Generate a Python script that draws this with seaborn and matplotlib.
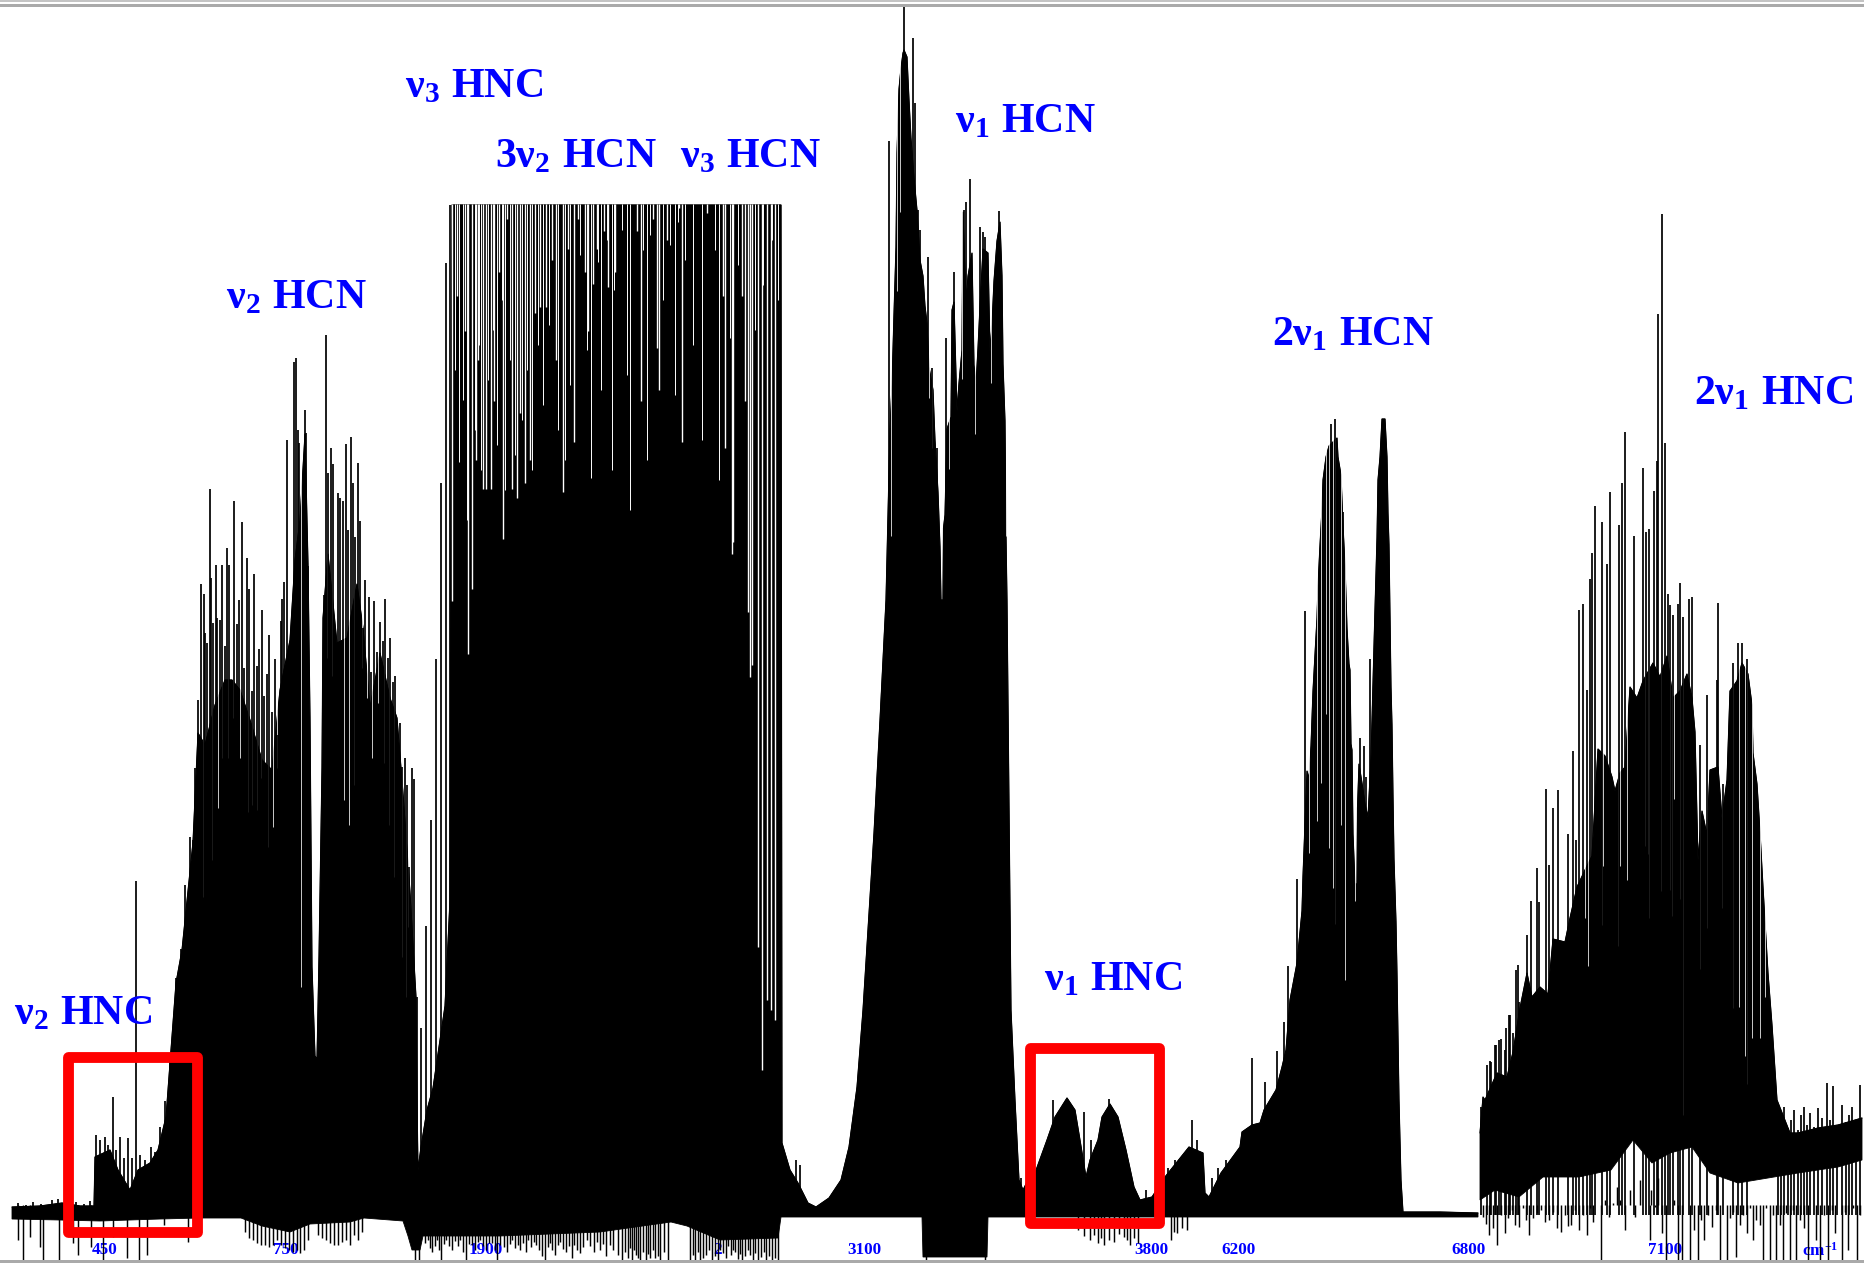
import matplotlib
matplotlib.use("Agg")
import matplotlib.pyplot as plt
from matplotlib.patches import Rectangle
import numpy as np
import seaborn as sns

# Composite spectrum: position along the pasted panels, and signal height (screen-down units)
main_top_x = [12,40,62,80,94,95,110,118,130,138,150,158,166,170,176,182,
              193,198,205,215,225,232,240,250,262,272,280,290,295,300,305,308,310,312,315,317,319,322,323,328,337,347,357,363,370,380,390,397,403,410,416,417,
              418,421,427,433,445,450,452,781,782,790,798,808,816,829,841,849,857,863,874,880,
              886,890,892,894,896,897,899,901,903,904,907,909,911,914,917,920,923,925,927,929,933,935,938,940,941,
              943,943.5,945,947,951,952,954,957,959,962,963,966,968,972,974,976,978,980,983,988,990,992,994,997,1000,1002,1003,1005,1006,1007,1011,1015,1019,1023,1028,
              1035,1047,1055,1067,1075,1080,1086,1090,1098,1102,1110,1118,1126,1134,1140,1152,1165,1177,1189,1203,1205,1209,1221,1240,1242,1252,1260,1264,1270,1276,1282,1286,1290,
              1297,1302,1303,1307,1309,1311,1312,1313,1315,1317,1318,1320,1322,1323,1326,1329,1333,1337,1338,1341,1343,1345,1347,1349,1350,1351,1352,1353,1355,1357,1357.5,1359,1362,1365,1368,1371,1372,1373,1374,1375,1376,1377,1378,1380,1382,1385,1387,1388,1389,1390,1391,1392,1393,1394,1396,1397,1399,1401,1403,1440,1478]
main_top_y = [1207,1206,1203,1206,1206,1157,1150,1170,1190,1170,1163,1150,1117,1063,983,950,
              842,733,745,705,680,680,690,720,760,770,690,640,560,520,434,564,718,967,1056,1059,957,768,618,554,643,638,584,628,708,653,698,718,793,892,997,1100,
              1170,1147,1110,1088,1006,900,205,205,1143,1170,1183,1203,1207,1198,1180,1147,1087,1010,833,720,
              600,429,385,314,247,153,89,68,53,50,57,100,138,178,210,260,276,306,323,367,390,440,492,547,600,
              600,528,515,429,417,310,302,411,383,350,212,302,276,253,365,385,348,306,249,253,352,325,281,241,222,276,364,421,536,600,1010,1100,1180,1190,1180,
              1173,1140,1117,1098,1110,1140,1177,1160,1140,1117,1104,1117,1150,1187,1200,1197,1177,1162,1147,1153,1193,1197,1173,1147,1132,1125,1123,1110,1100,1090,1067,1050,1000,
              963,911,876,771,779,746,718,691,654,618,586,545,509,480,457,446,442,438,457,475,526,565,628,664,670,744,750,834,884,884,808,764,783,804,817,758,720,683,645,609,574,538,480,457,419,419,457,513,545,614,687,725,796,859,922,974,1100,1180,1212,1212,1213]
main_bot_x = [12,60,100,160,200,241,262,290,310,350,364,403,408,412,420,423,500,600,671,687,720,778,781,922,923,987,988,1403,1478]
main_bot_y = [1219,1220,1221,1219,1218,1218,1226,1232,1224,1222,1218,1221,1236,1250,1250,1236,1236,1232,1222,1226,1240,1238,1217,1217,1257,1257,1217,1217,1217]

hnc_top_x = [1480,1483,1485,1497,1507,1513,1520,1527,1532,1540,1548,1553,1565,1570,1577,1585,1592,1598,1605,1612,1615,1620,1625,1630,1637,1643,1653,1660,1667,1673,1680,1687,1692,1695,1698,1702,1707,1710,1718,1722,1727,1730,1737,1742,1748,1752,1753,1757,1760,1763,1766,1768,1772,1775,1777,1790,1798,1818,1838,1862]
hnc_top_y = [1133,1097,1100,1073,1077,1052,1008,973,997,987,994,939,942,918,887,870,856,749,756,777,791,773,767,687,698,681,663,677,656,698,691,674,698,732,860,811,835,770,767,818,780,691,681,663,674,705,753,784,832,887,939,973,1025,1070,1100,1133,1133,1128,1125,1118]
hnc_bot_x = [1480,1495,1519,1543,1579,1611,1633,1652,1670,1692,1710,1738,1774,1798,1838,1862]
hnc_bot_y = [1200,1190,1197,1177,1177,1170,1140,1163,1153,1147,1173,1183,1177,1173,1167,1160]

# Individual peaks rising above the bands
up_x = [18,26,33,41,47,52,58,63,70,76,84,90,
        96,100,105,108,113,116,120,124,128,132,136,140,145,151,155,160,165,170,171,174,176,181,184,185,188,190,193,195,198,201,204,205,207,210,211,213,216,217,220,222,225,227,229,234,237,239,242,244,247,249,252,254,257,259,262,264,267,269,272,275,277,281,282,284,287,288,291,294,296,298,299,303,305,306,308,
        324,326,328,331,333,338,340,343,346,348,351,353,355,358,360,363,365,369,371,374,377,380,383,385,388,390,393,395,397,400,402,405,407,409,412,414,417,421,426,431,436,441,446,450,
        796,800,889,904,913,915,918,920,928,932,937,946,954,964,966,970,980,983,985,999,1021,1031,1053,1062,1084,1091,1109,1146,1158,1168,1175,1181,1186,1192,1197,1212,1218,1226,1232,1238,
        1252,1265,1277,1284,1288,1297,1305,1331,1335,1343,1360,1364,1366,1370,
        1481,1487,1491,1495,1499,1505,1510,1513,1519,1490,1496,1501,1506,1509,1516,1518,1527,1531,1537,1539,1546,1549,1553,1558,1568,1573,1576,1579,1583,1587,1590,1592,1595,1602,1607,1610,1619,1622,1625,1634,1643,1646,1649,1654,1657,1658,1662,1665,1668,1670,1673,1678,1680,1683,1689,1692,1700,1707,1717,1718,1723,1733,1738,1742,1747,
        1778,1781,1784,1788,1791,1794,1798,1801,1804,1807,1810,1814,1818,1822,1827,1830,1833,1837,1842,1846,1849,1852,1856,1860]
up_y = [1203,1205,1202,1204,1206,1200,1199,1203,1205,1202,1204,1201,
        1135,1140,1137,1145,1097,1150,1137,1158,1138,1158,881,1155,1160,1147,1152,1127,1101,1060,1061,1014,978,949,937,885,902,837,840,768,700,584,594,633,643,489,578,623,565,618,620,565,646,548,565,501,624,600,522,668,558,589,691,574,666,649,610,696,674,635,712,659,735,621,599,582,440,652,634,362,358,430,443,621,410,433,566,
        595,335,473,448,464,493,498,501,444,530,437,483,537,463,521,628,580,597,672,601,652,622,641,599,658,638,682,676,745,723,767,758,785,867,768,779,997,1028,926,820,659,483,263,205,
        1160,1165,141,6,38,103,210,230,257,368,448,338,272,210,202,179,227,232,237,211,1178,1165,1100,1110,1112,1140,1099,1190,1176,1168,1160,1166,1155,1120,1140,1178,1168,1160,1172,1155,
        1058,1082,1051,1022,966,879,611,424,419,512,738,746,777,659,
        1107,1065,1062,1045,1040,1050,1015,1033,1002,1061,1045,1039,1028,1015,970,965,935,901,868,902,789,865,808,790,834,751,840,610,604,690,579,553,506,522,564,492,525,483,432,536,468,532,529,491,461,314,214,443,594,605,615,604,583,617,599,597,745,695,680,603,784,663,643,643,659,
        1105,1125,1107,1128,1120,1110,1130,1115,1107,1125,1113,1127,1108,1118,1083,1120,1086,1128,1105,1122,1115,1107,1124,1085]

# Negative-going lines under the bands
down_x = [18,23,30,40,43,59,73,78,91,103,113,127,139,147,164,188,
          245,249,253,257,261,265,269,273,277,281,285,289,293,297,300,304,308,318,322,326,330,334,338,342,346,350,354,358,362,
          415,419,425,428,430,432,435,437,439,441,444,446,449,452,455,458,460,463,466,469,472,475,478,480,483,486,489,492,495,497,500,504,507,510,512,515,518,520,523,526,528,531,534,536,539,542,545,548,550,552,555,558,560,563,566,569,572,574,577,580,583,587,590,594,597,600,603,606,610,613,618,
          622,625,628,630,632,634,636,638,640,643,646,648,650,653,655,658,660,664,668,690,693,695,698,700,703,706,709,712,715,718,720,723,726,728,731,733,735,738,740,742,745,748,750,753,755,758,761,764,766,769,772,775,778,926,985,
          1078,1084,1090,1094,1098,1101,1104,1109,1114,1119,1124,1127,1130,1134,1138,1171,1174,1177,1182,1187,
          1483,1486,1489,1493,1497,1501,1505,1508,1512,1515,1519,1523,1526,1529,1533,1537,1541,1545,1549,1553,1557,1561,1565,1568,1571,1575,1579,1583,1587,1590,1593,1597,1601,1605,1609,1613,1617,1620,1625,1630,1635,1640,1645,1650,1651,1655,1658,1662,1666,1670,1674,1678,1682,1686,1690,1694,1698,1701,1704,1708,1712,1716,1720,1724,1727,1730,1733,1736,1740,1743,1747,1750,1753,1756,1760,1763,1766,1770,1773,1776,1780,1783,1786,1790,1793,1796,1800,1804,1808,1812,1816,1820,1824,1828,1832,1835,1838,1842,1845,1848,1853,1857,1860]
down_y = [1240,1263,1237,1247,1260,1263,1243,1255,1247,1263,1237,1258,1263,1255,1225,1242,
          1232,1238,1240,1243,1245,1245,1247,1245,1240,1245,1248,1250,1252,1250,1253,1250,1240,1235,1238,1240,1243,1245,1245,1242,1240,1245,1235,1240,1232,
          1263,1263,1243,1240,1248,1252,1246,1240,1250,1263,1244,1240,1246,1250,1241,1246,1240,1252,1263,1244,1245,1250,1242,1240,1246,1250,1243,1243,1250,1263,1245,1247,1252,1244,1240,1248,1245,1250,1243,1252,1240,1247,1242,1245,1250,1256,1263,1247,1243,1250,1255,1245,1242,1249,1252,1246,1258,1245,1250,1253,1247,1240,1246,1252,1242,1250,1244,1256,1245,1250,1255,
          1260,1252,1258,1248,1263,1250,1255,1258,1260,1252,1263,1254,1258,1250,1258,1256,1260,1252,1263,1263,1255,1260,1252,1263,1258,1255,1250,1263,1256,1260,1250,1253,1258,1246,1255,1250,1252,1259,1254,1263,1256,1250,1255,1260,1253,1263,1257,1252,1260,1256,1263,1258,1263,1263,1263,
          1230,1236,1240,1235,1243,1238,1245,1240,1242,1234,1237,1240,1245,1238,1243,1240,1232,1233,1228,1230,
          1217,1224,1235,1228,1245,1215,1233,1218,1210,1225,1227,1208,1220,1235,1218,1213,1210,1222,1220,1212,1228,1232,1215,1226,1225,1210,1230,1215,1235,1208,1222,1205,1263,1200,1217,1203,1187,1200,1230,1190,1217,1180,1205,1240,1190,1207,1178,1233,1263,1205,1200,1263,1263,1205,1263,1230,1263,1220,1240,1215,1227,1210,1263,1205,1263,1218,1212,1257,1225,1215,1233,1208,1240,1220,1225,1263,1208,1263,1215,1263,1225,1263,1213,1263,1210,1263,1220,1228,1263,1205,1240,1263,1215,1263,1210,1233,1205,1263,1212,1250,1208,1263,1215]

# White gaps between saturated lines of the plateau
gap_x = [452,457,465,468,472,476,478,483,486,491,494,499,503,507,512,517,520,525,530,535,540,546,552,556,563,568,574,578,585,588,593,597,604,608,615,637,641,653,657,659,667,679,682,707,723,725,732,733,742,745,748,750,752,758,762,767,771,775]
gap_y = [601,296,331,654,589,460,360,489,489,489,401,272,539,219,489,498,413,483,460,313,307,307,260,360,492,249,442,219,272,331,284,249,231,287,272,231,401,219,348,390,240,208,442,213,296,448,554,542,296,401,612,677,665,947,1070,1000,1010,1020]
short_gap_x = [455,459,463,467,475,479,481,488,493,497,502,505,510,515,522,527,532,538,543,549,558,565,570,580,587,591,598,601,607,612,614,622,627,630,643,647,650,663,670,675,678,685,693,702,715,719,730,738,755,763,772,778]
short_gap_y = [370,462,400,520,430,345,470,380,330,445,300,490,360,455,420,370,470,345,405,325,430,460,385,255,350,478,262,390,240,470,290,230,375,510,250,460,235,300,245,395,222,260,345,440,250,480,338,265,330,285,240,300]

# Thin pale lines cutting through the solid parts of the bands
slit_x = [203,212,218,222,228,233,240,248,252,257,261,268,273,277,301,327,332,344,349,354,362,367,372,378,384,389,394,402,406,408,415,
          897,900,891,929,932,949,975,991,962,1006,
          1309,1321,1326,1329,1333,1335,1341,1345,1355,1317,
          1585,1588,1602,1603,1618,1620,1623,1627,1645,1648,1649,1661,1670,1672,1674,1680,1683,1700,1707,1722,1733,1739,1745,1747,1752,1760,1765]
slit_y = [897,860,808,758,758,718,758,812,805,810,778,847,827,768,987,658,676,800,825,785,668,698,758,703,763,825,877,957,997,927,969,
          291,212,536,398,448,469,434,383,379,536,
          853,783,714,848,888,924,825,980,901,821,
          918,966,925,866,946,866,767,880,846,854,918,891,890,916,799,899,1115,969,928,908,1008,1007,1056,1084,1038,1038,997]

tick_pos = [104.5,285.5,486,864,1151,1239,1469,1665,1820]
tick_labels = ["450","750","1900","3100","3800","6200","6800","7100",r"cm$^{\mathbf{-1}}$"]

band_labels = [r"$\mathbf{ν_2\ HNC}$", r"$\mathbf{ν_2\ HCN}$", r"$\mathbf{ν_3\ HNC}$", r"$\mathbf{3ν_2\ HCN}$", r"$\mathbf{ν_3\ HCN}$",
               r"$\mathbf{ν_1\ HCN}$", r"$\mathbf{ν_1\ HNC}$", r"$\mathbf{2ν_1\ HCN}$", r"$\mathbf{2ν_1\ HNC}$"]
label_x = [14,226,405,495,680,955,1044,1272,1694]
label_y = [1024,308,97,167,167,132,990,345,404]

box_x = [67.5,1029.5]
box_y = [1056.5,1047.5]
box_w = [129,129.5]
box_h = [175.5,175]

sns.set_style("white")
plt.rcParams["font.family"] = ["Liberation Serif", "DejaVu Serif"]
plt.rcParams["mathtext.fontset"] = "custom"
plt.rcParams["mathtext.bf"] = "Liberation Serif:bold"
plt.rcParams["mathtext.rm"] = "Liberation Serif:bold"
plt.rcParams["mathtext.it"] = "Liberation Serif:bold"

fig = plt.figure(figsize=(18.65, 12.63), dpi=100, facecolor="white")
ax = fig.add_axes([0, 0, 1, 1])
BLUE = "#0000ff"

ax.text(713, 1254, "2", color=BLUE, fontsize=12.3, fontweight="bold", ha="left", va="baseline", zorder=1)

for tx, ty, bx, by in [(main_top_x, main_top_y, main_bot_x, main_bot_y),
                       (hnc_top_x, hnc_top_y, hnc_bot_x, hnc_bot_y)]:
    ax.fill(np.r_[tx, bx[::-1]], np.r_[ty, by[::-1]], color="black", lw=0.6, zorder=1.5)
    sns.lineplot(x=tx, y=ty, sort=False, estimator=None, color="black", lw=0.8, ax=ax, zorder=1.55)

ax.vlines(gap_x, 204, gap_y, color="white", lw=1.0, zorder=1.6)
ax.vlines(short_gap_x, 204, short_gap_y, color="white", lw=0.7, zorder=1.6)
ax.vlines(slit_x, 0, slit_y, color="white", lw=0.55, zorder=1.6)
ax.vlines(up_x, 1215, up_y, color="black", lw=1.25, zorder=1.7)
ax.vlines(down_x, 1205, down_y, color="black", lw=1.05, zorder=1.7)

for x0, y0, w, h in zip(box_x, box_y, box_w, box_h):
    ax.add_patch(Rectangle((x0, y0), w, h, fill=False, ec="#ff0000", lw=7.8, joinstyle="round", zorder=3))

for s, x0, y0 in zip(band_labels, label_x, label_y):
    ax.text(x0, y0, s, color=BLUE, fontsize=30.2, ha="left", va="baseline", zorder=4)

ax.set_xlim(0, 1865)
ax.set_ylim(1263, 0)
ax.set_xticks(tick_pos)
ax.set_xticklabels(tick_labels, color=BLUE, fontsize=12.3, fontweight="bold")
ax.set_yticks([])
ax.tick_params(axis="x", length=0, pad=-15)
for lab in ax.get_xticklabels():
    lab.set_zorder(3.5)
ax.axhspan(0, 1.5, color="#c4c4c4", lw=0, zorder=5)
ax.axhspan(3.5, 7, color="#aaaaaa", lw=0, zorder=5)
ax.axhspan(1260, 1263, color="#aaaaaa", lw=0, zorder=5)
sns.despine(ax=ax, left=True, bottom=True)
fig.savefig("out.png", dpi=100, facecolor="white")
